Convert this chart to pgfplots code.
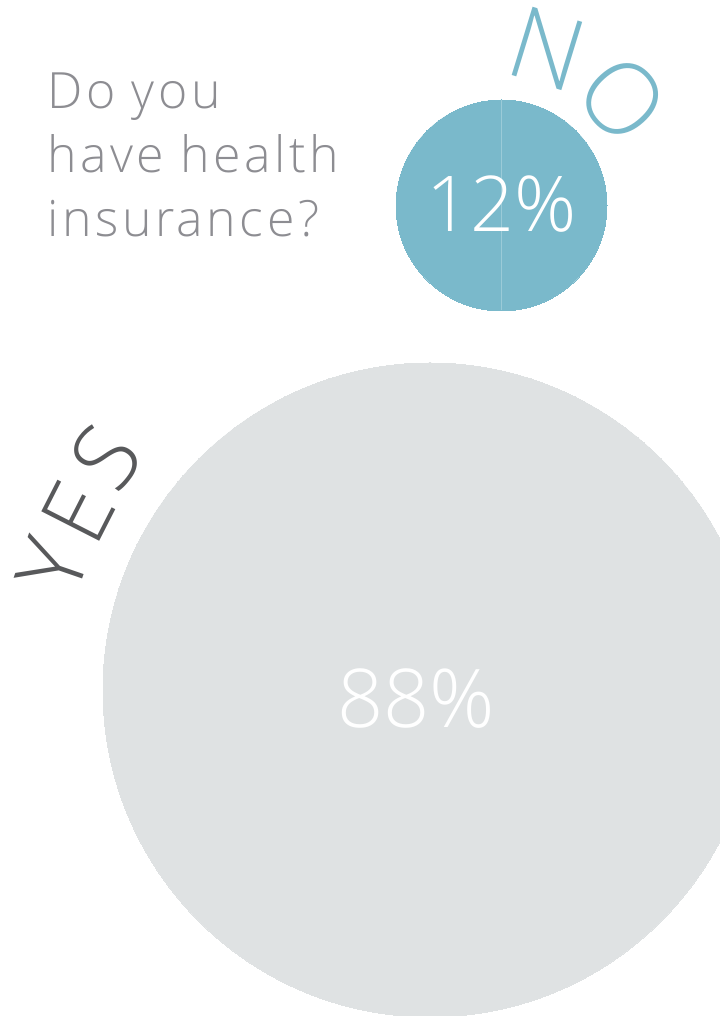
\documentclass[border=0pt]{standalone}
\usepackage{pgfplots}
\pgfplotsset{compat=1.18}
\usepackage{fontspec}
\setmainfont{Open Sans}[UprightFont=* Light]
\newfontfamily\qfont{Open Sans}[UprightFont=* Light, LetterSpace=7]
\definecolor{tealc}{HTML}{7AB9CB}
\definecolor{greyc}{HTML}{DFE2E3}
\definecolor{qtext}{HTML}{8D8D92}
\definecolor{yestext}{HTML}{58595B}

\begin{document}
\begin{tikzpicture}
\begin{axis}[width=359.5pt, height=508pt, scale only axis,
  xmin=0, xmax=719, ymin=0, ymax=1016, y dir=reverse,
  axis line style={draw=none}, ticks=none, clip=true,
  set layers, mark layer=axis background]
% bubbles: x, y (px from top), radius (px)
\addplot[only marks, mark=*,
  visualization depends on={\thisrow{r}*0.5 \as \rr},
  scatter, scatter/use mapped color={draw=greyc, fill=greyc, line width=0pt},
  scatter/@pre marker code/.append style={/tikz/mark size=\rr pt}]
  table {
x y r
430 690 327
};
\addplot[only marks, mark=*,
  visualization depends on={\thisrow{r}*0.5 \as \rr},
  scatter, scatter/use mapped color={draw=tealc, fill=tealc, line width=0pt},
  scatter/@pre marker code/.append style={/tikz/mark size=\rr pt}]
  table {
x y r
501.5 205.5 105.5
};
\addplot[color=tealc!75!white, line width=0.5pt] coordinates {(501.5,100.5)(501.5,310.5)};

\node[anchor=base, text=white, font=\fontsize{38.5}{40}\selectfont, inner sep=0pt] at (axis cs:502,232) {12\%};
\node[anchor=base, text=white, font=\fontsize{40.5}{42}\selectfont, inner sep=0pt] at (axis cs:416,728) {88\%};

\node[anchor=base west, text=qtext, align=left, inner sep=0pt,
  font=\qfont\fontsize{25}{32}\selectfont] at (axis cs:47,237)
  {Do you\\have health\\insurance?};

\node[text=tealc, font=\fontsize{50}{50}\selectfont, inner sep=0pt, rotate=-17] at (axis cs:547,49) {N};
\node[text=tealc, font=\fontsize{50}{50}\selectfont, inner sep=0pt, rotate=-48] at (axis cs:623,99) {O};

\node[text=yestext, font=\fontsize{45.5}{46}\selectfont, inner sep=0pt, rotate=71] at (axis cs:53,566) {Y};
\node[text=yestext, font=\fontsize{45.5}{46}\selectfont, inner sep=0pt, rotate=63] at (axis cs:78,512) {E};
\node[text=yestext, font=\fontsize{45.5}{46}\selectfont, inner sep=0pt, rotate=54] at (axis cs:106,457) {S};
\end{axis}
\pgfresetboundingbox
\path[use as bounding box] (current axis.south west) rectangle (current axis.north east);
\end{tikzpicture}
\end{document}
